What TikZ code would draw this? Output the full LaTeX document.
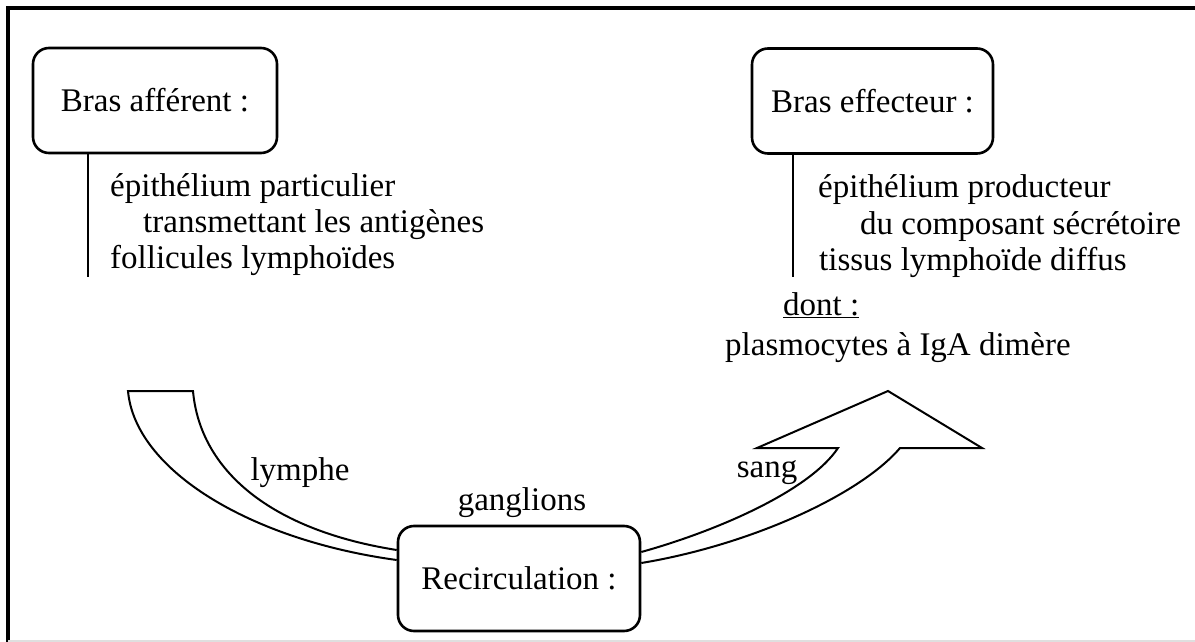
\documentclass[tikz,border=0pt]{standalone}
\usepackage{fontspec}
\setmainfont{Liberation Serif}
\begin{document}
\begin{tikzpicture}[x=1pt,y=-1pt,
  every node/.style={font=\fontsize{33}{38}\selectfont, inner sep=0pt},
  armbox/.style={draw, line width=2.6pt, rounded corners=16pt, minimum width=#1, minimum height=105pt},
  lbl/.style={anchor=base west},
  band/.style={draw, line width=2pt, line join=miter},
  stem/.style={line width=2.4pt}]
\useasboundingbox (0,0) rectangle (1195,642);
% frame
\draw[line width=4pt] (8,642) -- (8,8) -- (1195,8);
\draw[gray!25, line width=1.2pt] (8,641) -- (1195,641);
% boxes
\node[armbox=244pt] (aff) at (155,100.5) {Bras afférent :};
\node[armbox=241pt] (eff) at (872.5,101) {Bras effecteur :};
\node[armbox=242pt] (rec) at (519,578.5) {Recirculation :};
% stems
\coordinate (affstemtop) at (88,152);
\coordinate (affstembot) at (88,277);
\coordinate (effstemtop) at (793,154);
\coordinate (effstembot) at (793,277);
\draw[stem] (affstemtop) -- (affstembot);
\draw[stem] (effstemtop) -- (effstembot);
% left texts
\node[lbl] (a1) at (110,196) {épithélium particulier};
\node[lbl] (a2) at (143,232) {transmettant les antigènes};
\node[lbl] (a3) at (110,268) {follicules lymphoïdes};
% right texts
\node[lbl] (e1) at (818,197) {épithélium producteur};
\node[lbl] (e2) at (860,234) {du composant sécrétoire};
\node[lbl] (e3) at (819,270) {tissus lymphoïde diffus};
\node[lbl] (dont) at (783,315) {\underline{dont :}};
\node[lbl] (plasmo) at (725,355) {plasmocytes à IgA dimère};
% left band (lymphe)
\coordinate (lo) at (128,391);
\coordinate (li) at (193,391);
\coordinate (ro1) at (rec.west |- 0,560);
\coordinate (ri1) at (rec.west |- 0,550);
\draw[band] (ri1) .. controls (270,530) and (200,470) .. (li) -- (lo)
   .. controls (135,470) and (250,540) .. (ro1);
% right band (sang)
\coordinate (su) at (rec.east |- 0,552);
\coordinate (sl) at (rec.east |- 0,563);
\draw[band] (su) .. controls (720,530) and (810,490) .. (838,448)
   -- (757,448) -- (888,391) -- (982,448) -- (900,448)
   .. controls (860,495) and (750,545) .. (sl);
% labels
\node (lymphe) at (300,473) {lymphe};
\node (gangl) at (522,503) {ganglions};
\node (sang) at (767,473) {sang};
\end{tikzpicture}
\end{document}
